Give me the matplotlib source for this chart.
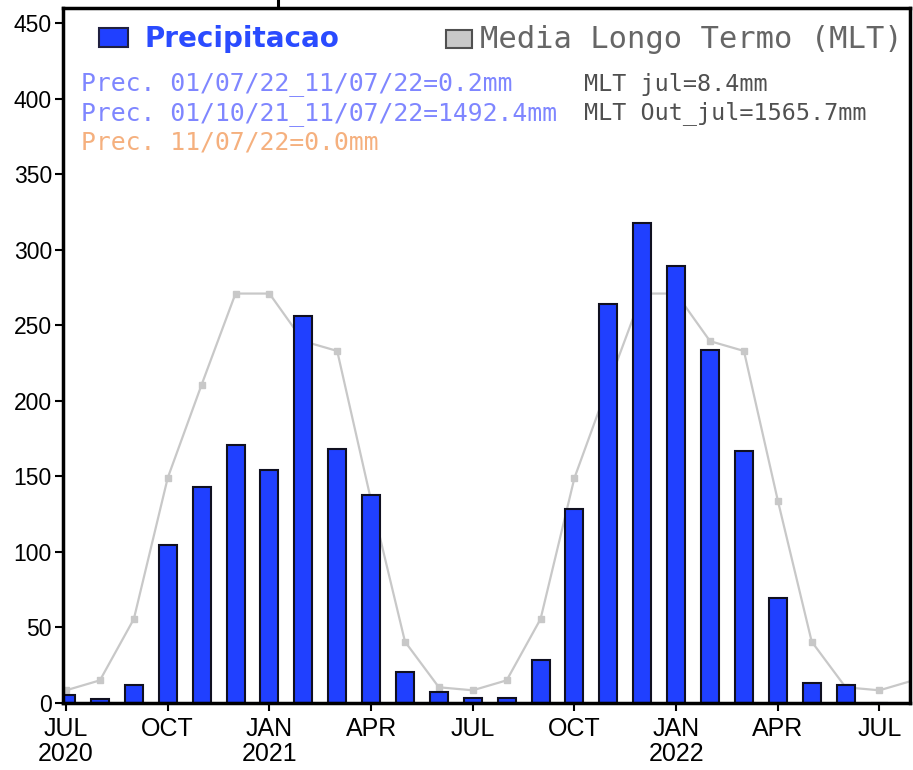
import matplotlib
matplotlib.use("Agg")
import matplotlib.pyplot as plt
from matplotlib.patches import Rectangle
from matplotlib.lines import Line2D
import numpy as np

# ---- data ----
months = ["JUL", "AUG", "SEP", "OCT", "NOV", "DEC", "JAN", "FEB", "MAR", "APR", "MAY", "JUN",
          "JUL", "AUG", "SEP", "OCT", "NOV", "DEC", "JAN", "FEB", "MAR", "APR", "MAY", "JUN", "JUL"]
precip = [5.3, 2.4, 12, 104.5, 143, 170.5, 154, 256, 168, 138, 20.8, 7,
          3, 3, 28.5, 128.5, 264, 318, 289, 233.5, 166.5, 69.5, 13, 12, 0.2]
# long-term monthly mean, Jan..Dec
mlt_clim = [271, 239.5, 233, 134, 40.6, 10.4, 8.4, 15, 55.6, 149, 210.7, 271]
tick_labels = ["JUL\n2020", "OCT", "JAN\n2021", "APR", "JUL", "OCT", "JAN\n2022", "APR", "JUL"]
info_left = ["Prec. 01/07/22_11/07/22=0.2mm", "Prec. 01/10/21_11/07/22=1492.4mm", "Prec. 11/07/22=0.0mm"]
info_right = ["MLT jul=8.4mm", "MLT Out_jul=1565.7mm"]

W, H = 913, 770
fig = plt.figure(figsize=(W / 100, H / 100), dpi=100)
L, R, T, B = 63, 910, 8, 703
ax = fig.add_axes([L / W, 1 - B / H, (R - L) / W, (B - T) / H])

x = np.arange(len(precip))
# MLT line from one month before start to one month after end (Jul index = 6 in Jan-based)
mx = np.arange(-1, len(precip) + 1)
mlt_series = [mlt_clim[(6 + i) % 12] for i in mx]
ax.plot(mx, mlt_series, color="#c8c8c8", lw=1.6, marker="s", ms=4.5,
        mfc="#c8c8c8", mec="#c8c8c8", zorder=1)
ax.bar(x, precip, width=0.53, color="#2040ff", edgecolor="#101020", linewidth=1.5, zorder=2)

ax.set_xlim(-0.09, 24.9)
ax.set_ylim(0, 460)
ax.set_yticks(np.arange(0, 451, 50))
ax.set_xticks(x[::3])
ax.set_xticklabels(tick_labels, family=["Liberation Sans", "DejaVu Sans"], fontsize=18,
                   linespacing=1.05)
for lab in ax.get_yticklabels():
    lab.set_family(["Liberation Sans", "DejaVu Sans"])
    lab.set_fontsize(16.5)
ax.tick_params(axis="both", direction="out", length=6, width=1.5, color="black")
ax.tick_params(axis="y", pad=2)
ax.tick_params(axis="x", pad=4)
for s in ax.spines.values():
    s.set_linewidth(2.5)

def fx(px):
    return px / W

def fy(py):
    return 1 - py / H

# small line above frame
fig.add_artist(Line2D([fx(278), fx(278)], [fy(0), fy(7)], color="black", lw=2.2))

mono = ["DejaVu Sans Mono", "DejaVu Sans"]
# legend
fig.add_artist(Rectangle((fx(99), fy(47)), (128 - 99) / W, (47 - 28) / H,
                         facecolor="#2040ff", edgecolor="#202040", lw=1.5))
fig.text(fx(144), fy(39), "Precipitacao", color="#2a4bff", fontsize=20, fontweight="bold",
         family="DejaVu Sans", va="center", ha="left")
fig.add_artist(Rectangle((fx(446), fy(48)), (472 - 446) / W, (48 - 30) / H,
                         facecolor="#c8c8c8", edgecolor="#505050", lw=1.5))
fig.text(fx(480), fy(39), "Media Longo Termo (MLT)", color="#666666", fontsize=22,
         family=mono, va="center", ha="left")

left_colors = ["#7f86ff", "#7f86ff", "#f5b07e"]
for i, (t, c) in enumerate(zip(info_left, left_colors)):
    fig.text(fx(81), fy(84 + 29.5 * i), t, color=c, fontsize=17.8,
             family=mono, va="center", ha="left")
for i, t in enumerate(info_right):
    fig.text(fx(584), fy(84 + 29.5 * i), t, color="#505050", fontsize=16.8,
             family=mono, va="center", ha="left")

fig.savefig("out.png", dpi=100)
